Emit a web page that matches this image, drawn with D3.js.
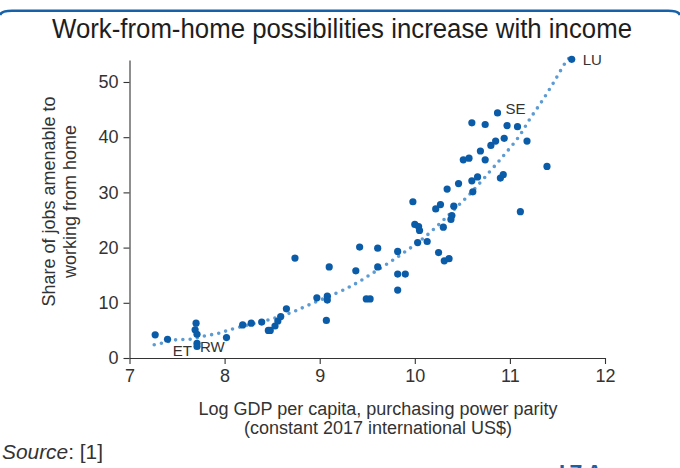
<!DOCTYPE html>
<html>
<head>
<meta charset="utf-8">
<script src="https://cdn.jsdelivr.net/npm/d3@7"></script>
<style>
  html, body { margin: 0; padding: 0; background: #fff; }
  svg { display: block; }
  text { font-family: "Liberation Sans", Arial, sans-serif; fill: #2b2b2b; }
</style>
</head>
<body>
<svg id="chart" width="680" height="468"></svg>
<script>
// Log GDP per capita (PPP) for each country
const logGdp = [
  7.27, 7.40, 7.70, 7.69, 7.71, 7.71, 7.71, 8.02, 8.19, 8.28,
  8.39, 8.46, 8.48, 8.53, 8.56, 8.59, 8.65, 8.74, 8.97, 9.08,
  9.08, 9.07, 9.10, 9.38, 9.42, 9.49, 9.53, 9.61, 9.61, 9.82,
  9.82, 9.90, 9.82, 9.98, 10.00, 10.04, 10.05, 10.03, 10.13, 10.22,
  10.27, 10.25, 10.30, 10.31, 10.36, 10.38, 10.39, 10.34, 10.41, 10.46,
  10.51, 10.57, 10.60, 10.60, 10.61, 10.66, 10.69, 10.74, 10.74, 10.80,
  10.85, 10.87, 10.90, 10.93, 10.94, 10.97, 11.08, 11.18, 11.11, 11.39,
  11.65
];
// Share of jobs amenable to working from home (%)
const wfhShare = [
  4.2, 3.4, 6.3, 5.1, 4.3, 2.65, 2.1, 3.7, 6.0, 6.3,
  6.5, 5.0, 5.0, 5.8, 6.7, 7.5, 8.9, 18.1, 10.9, 11.2,
  10.5, 6.8, 16.5, 15.8, 20.1, 10.7, 10.7, 19.9, 16.5, 19.3,
  15.2, 15.2, 12.3, 28.3, 24.2, 23.8, 23.1, 20.9, 21.1, 27.0,
  27.8, 19.1, 23.7, 17.6, 18.0, 25.1, 25.8, 30.6, 27.5, 31.6,
  35.9, 36.2, 42.6, 32.1, 30.1, 32.8, 37.5, 42.3, 35.9, 38.5,
  39.3, 44.4, 32.6, 33.2, 39.8, 42.1, 41.9, 39.3, 26.5, 34.7,
  54.1
];
// Country codes shown next to a few points ("" = unlabelled)
const countryLabels = logGdp.map(() => "");
countryLabels[5] = "RW";
countryLabels[6] = "ET";
countryLabels[61] = "SE";
countryLabels[70] = "LU";

// Smoothed trend through the scatter
const fitX = [7.26, 7.34, 7.49, 7.64, 7.79, 7.94, 8.07, 8.37, 8.50, 8.71,
              8.91, 9.17, 9.37, 9.55, 9.74, 9.91, 10.09, 10.26, 10.42, 10.59,
              10.79, 10.94, 11.09, 11.21, 11.34, 11.46, 11.58, 11.63];
const fitY = [2.4, 2.7, 3.3, 3.4, 4.0, 4.5, 5.2, 6.5, 7.1, 8.3,
              9.8, 11.7, 13.4, 15.3, 17.4, 19.4, 21.7, 24.3, 27.0, 29.9,
              33.8, 36.8, 40.0, 43.3, 46.6, 49.9, 53.4, 54.5];

const xTicks = [7, 8, 9, 10, 11, 12];
const yTicks = [0, 10, 20, 30, 40, 50];

const titleText = "Work-from-home possibilities increase with income";
const xLabelLines = ["Log GDP per capita, purchasing power parity", "(constant 2017 international US$)"];
const yLabelLines = ["Share of jobs amenable to", "working from home"];

const svg = d3.select("#chart");

const x = d3.scaleLinear().domain([7, 12]).range([129.5, 605]);
const y = d3.scaleLinear().domain([0, 54]).range([358, 59.9]);

// Frame line across the top
svg.append("path")
  .attr("d", "M0,15 Q1.5,10.8 12,10.8 L668,10.8 Q678.5,10.8 680,15")
  .attr("fill", "none")
  .attr("stroke", "#1761a8")
  .attr("stroke-width", 2.6);

// Title
svg.append("text")
  .attr("x", 342).attr("y", 38)
  .attr("text-anchor", "middle")
  .attr("font-size", 27)
  .attr("textLength", 580)
  .attr("lengthAdjust", "spacingAndGlyphs")
  .style("fill", "#1e1e1e")
  .text(titleText);

// Axes
const axisColor = "#333";
const gx = svg.append("g")
  .attr("transform", `translate(0,${y(0)})`)
  .call(d3.axisBottom(x).tickValues(xTicks).tickFormat(d3.format("d"))
    .tickSize(6).tickSizeOuter(0).tickPadding(5));
const gy = svg.append("g")
  .attr("transform", `translate(${x(7)},0)`)
  .call(d3.axisLeft(y).tickValues(yTicks).tickFormat(d3.format("d"))
    .tickSize(6).tickSizeOuter(0).tickPadding(5));
[gx, gy].forEach(g => {
  g.selectAll("path, line").attr("stroke", axisColor).attr("stroke-width", 1.1);
  g.selectAll("text")
    .style("font-family", '"Liberation Sans", Arial, sans-serif')
    .style("fill", "#333")
    .attr("font-size", 18);
});

// Axis titles
svg.append("g").selectAll("text")
  .data(xLabelLines)
  .join("text")
  .attr("x", 378)
  .attr("y", (d, i) => 415 + i * 19)
  .attr("text-anchor", "middle")
  .attr("font-size", 18)
  .style("fill", "#333")
  .text(d => d);

svg.append("g").selectAll("text")
  .data(yLabelLines)
  .join("text")
  .attr("transform", (d, i) => `translate(${55 + i * 21},201.5) rotate(-90)`)
  .attr("text-anchor", "middle")
  .attr("font-size", 18)
  .style("fill", "#333")
  .text(d => d);

// Trend line drawn as a row of round dots
const trend = fitX.map((v, i) => [v, fitY[i]]);
svg.append("path")
  .datum(trend)
  .attr("d", d3.line().x(d => x(d[0])).y(d => y(d[1])).curve(d3.curveCatmullRom))
  .attr("fill", "none")
  .attr("stroke", "#5d9bd3")
  .attr("stroke-width", 3.6)
  .attr("stroke-linecap", "round")
  .attr("stroke-dasharray", "0 7.3");

// Country points
const pts = logGdp.map((v, i) => ({ gx: v, share: wfhShare[i], code: countryLabels[i] }));
svg.append("g").selectAll("circle")
  .data(pts)
  .join("circle")
  .attr("cx", d => x(d.gx))
  .attr("cy", d => y(d.share))
  .attr("r", 3.6)
  .attr("fill", "#0a5ba8");

// Country code annotations
const labelPlacement = {
  LU: { dx: 11, dy: 6, anchor: "start" },
  SE: { dx: 8, dy: 1.5, anchor: "start" },
  RW: { dx: 3, dy: 9, anchor: "start" },
  ET: { dx: -5, dy: 10, anchor: "end" }
};
svg.append("g").selectAll("text")
  .data(pts.filter(d => d.code))
  .join("text")
  .attr("x", d => x(d.gx) + labelPlacement[d.code].dx)
  .attr("y", d => y(d.share) + labelPlacement[d.code].dy)
  .attr("text-anchor", d => labelPlacement[d.code].anchor)
  .attr("font-size", 15)
  .style("fill", "#333")
  .text(d => d.code);

// Source note
const src = svg.append("text")
  .attr("x", 2).attr("y", 459)
  .attr("font-size", 20)
  .attr("textLength", 101)
  .attr("lengthAdjust", "spacingAndGlyphs")
  .style("fill", "#333");
src.append("tspan").attr("font-style", "italic").text("Source");
src.append("tspan").text(": [1]");

// Publisher mark, cut off by the bottom edge
svg.append("text")
  .attr("x", 559).attr("y", 480)
  .attr("font-size", 22)
  .attr("font-weight", "bold")
  .attr("letter-spacing", 4)
  .style("fill", "#1761a8")
  .text("IZA");
</script>
</body>
</html>
